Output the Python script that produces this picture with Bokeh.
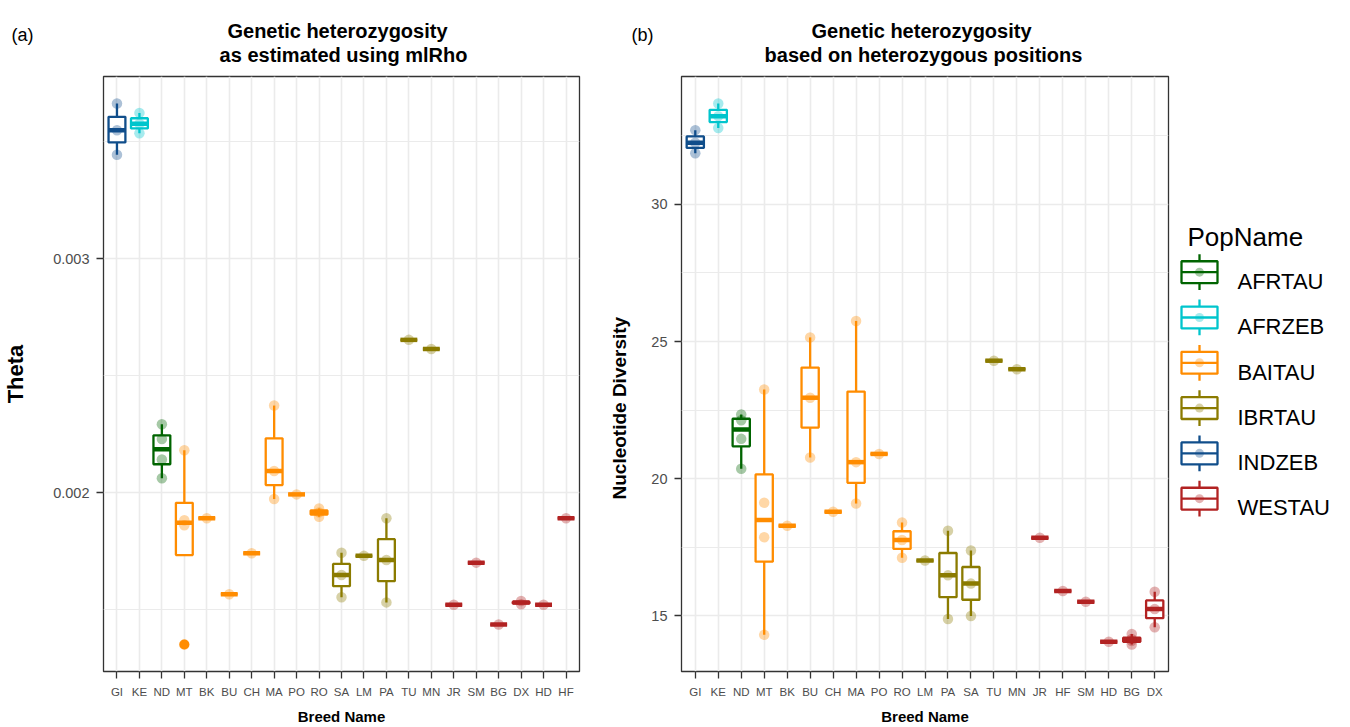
import numpy as np
from bokeh.plotting import figure
from bokeh.models import Range1d, FactorRange, FixedTicker, ColumnDataSource, PrintfTickFormatter, Title
from bokeh.layouts import row, column
from bokeh.embed import file_html
from bokeh.resources import INLINE
from bokeh.core.properties import value

# ---------------- data ----------------
pop_names = ["AFRTAU", "AFRZEB", "BAITAU", "IBRTAU", "INDZEB", "WESTAU"]
pop_colors = ["#006400", "#00C5CD", "#FF8C00", "#8B7B00", "#104E8B", "#B22222"]

breed_pop = {
    "GI": "INDZEB", "KE": "AFRZEB", "ND": "AFRTAU",
    "MT": "BAITAU", "BK": "BAITAU", "BU": "BAITAU", "CH": "BAITAU",
    "MA": "BAITAU", "PO": "BAITAU", "RO": "BAITAU",
    "SA": "IBRTAU", "LM": "IBRTAU", "PA": "IBRTAU", "TU": "IBRTAU", "MN": "IBRTAU",
    "JR": "WESTAU", "SM": "WESTAU", "BG": "WESTAU", "DX": "WESTAU", "HD": "WESTAU", "HF": "WESTAU",
}

theta_breeds = ["GI", "KE", "ND", "MT", "BK", "BU", "CH", "MA", "PO", "RO", "SA",
                "LM", "PA", "TU", "MN", "JR", "SM", "BG", "DX", "HD", "HF"]
theta_samples = [
    [0.003445, 0.003550, 0.003664],
    [0.003537, 0.003578, 0.003624],
    [0.002061, 0.002141, 0.002229, 0.002292],
    [0.001350, 0.001860, 0.001881, 0.002181],
    [0.001890],
    [0.001565],
    [0.001740],
    [0.001972, 0.002092, 0.002372],
    [0.001992],
    [0.001896, 0.001915, 0.001932],
    [0.001552, 0.001647, 0.001742],
    [0.001729],
    [0.001530, 0.001711, 0.001890],
    [0.002653],
    [0.002614],
    [0.001520],
    [0.001700],
    [0.001435],
    [0.001522, 0.001536],
    [0.001520],
    [0.001890],
]
theta_ticks = [0.002, 0.003]

nd_breeds = ["GI", "KE", "ND", "MT", "BK", "BU", "CH", "MA", "PO", "RO", "LM",
             "PA", "SA", "TU", "MN", "JR", "HF", "SM", "HD", "BG", "DX"]
nd_samples = [
    [31.87, 32.25, 32.71],
    [32.79, 33.22, 33.68],
    [20.36, 21.45, 22.13, 22.34],
    [14.30, 17.86, 19.12, 23.25],
    [18.28],
    [20.77, 22.95, 25.15],
    [18.79],
    [19.09, 20.60, 25.75],
    [20.90],
    [17.11, 17.76, 18.40],
    [17.01],
    [14.88, 16.47, 18.10],
    [14.99, 16.17, 17.38],
    [24.30],
    [23.99],
    [17.84],
    [15.90],
    [15.51],
    [14.05],
    [13.95, 14.08, 14.15, 14.33],
    [14.58, 15.24, 15.87],
]
nd_ticks = [15, 20, 25, 30]

panel_tags = ["(a)", "(b)"]
title_a = ["Genetic heterozygosity", "as estimated using mlRho"]
title_b = ["Genetic heterozygosity", "based on heterozygous positions"]

FONT = "Liberation Sans"
HEAD_H = 74
PANEL_H = 653
TOTAL_W = 1348
SPLIT = 587   # page x where the right panel's figure starts


def box_stats(vals):
    v = np.sort(np.asarray(vals, float))
    q1, med, q3 = np.percentile(v, [25, 50, 75])
    iqr = q3 - q1
    keep = (v >= q1 - 1.5 * iqr) & (v <= q3 + 1.5 * iqr)
    inside = v[keep]
    return q1, med, q3, inside.min(), inside.max(), v[~keep]


def make_panel(breeds, samples, ticks, fmt, width, bl, br):
    colors = [pop_colors[pop_names.index(breed_pop[b])] for b in breeds]
    stats = [box_stats(s) for s in samples]
    allv = np.concatenate([np.asarray(s, float) for s in samples])
    lo, hi = allv.min(), allv.max()
    pad = 0.05 * (hi - lo)
    step = ticks[1] - ticks[0]
    minor = [t - step / 2 for t in ticks] + [ticks[-1] + step / 2]

    p = figure(width=width, height=PANEL_H,
               x_range=FactorRange(factors=breeds, range_padding=0.1, range_padding_units="absolute"),
               y_range=Range1d(lo - pad, hi + pad),
               output_backend="svg", toolbar_location=None,
               min_border_left=bl, min_border_right=br, min_border_top=2, min_border_bottom=52)
    p.background_fill_color = "white"
    p.border_fill_color = "white"
    p.outline_line_color = "#333333"
    p.outline_line_width = 1.3

    box = ColumnDataSource(dict(
        breed=breeds, color=colors,
        q1=[s[0] for s in stats], med=[s[1] for s in stats], q3=[s[2] for s in stats],
        lo=[s[3] for s in stats], hi=[s[4] for s in stats]))
    p.segment(x0="breed", x1="breed", y0="q3", y1="hi", source=box, line_color="color", line_width=2.3)
    p.segment(x0="breed", x1="breed", y0="q1", y1="lo", source=box, line_color="color", line_width=2.3)
    p.vbar(x="breed", width=0.75, bottom="q1", top="q3", source=box,
           fill_color="white", line_color="color", line_width=2.3)
    p.rect(x="breed", y="med", width=0.75, height=4.5, height_units="screen", source=box,
           fill_color="color", line_color=None)

    ox, oy, oc = [], [], []
    px, py, pc = [], [], []
    for b, s, c, st in zip(breeds, samples, colors, stats):
        for v in st[5]:
            ox.append(b); oy.append(v); oc.append(c)
        for v in s:
            px.append(b); py.append(v); pc.append(c)
    p.scatter(x=ox, y=oy, color=oc, size=10, line_color=None)
    p.scatter(x=px, y=py, fill_color=pc, fill_alpha=0.35, line_color=None, size=10.5)

    p.xgrid.grid_line_color = "#EBEBEB"
    p.xgrid.grid_line_width = 1.6
    p.yaxis.ticker = FixedTicker(ticks=ticks, minor_ticks=minor)
    p.yaxis.formatter = PrintfTickFormatter(format=fmt)
    p.ygrid.grid_line_color = "#EBEBEB"
    p.ygrid.grid_line_width = 1.6
    p.ygrid.minor_grid_line_color = "#EBEBEB"
    p.ygrid.minor_grid_line_width = 1.0

    for ax in (p.xaxis[0], p.yaxis[0]):
        ax.axis_line_color = None
        ax.major_tick_line_color = "#333333"
        ax.major_tick_line_width = 1.3
        ax.major_tick_in = 0
        ax.major_tick_out = 7
        ax.minor_tick_line_color = None
        ax.major_label_text_color = "#4D4D4D"
        ax.major_label_text_font = FONT
        ax.major_label_standoff = 7
        ax.axis_label_text_font = FONT
        ax.axis_label_text_font_style = "bold"
        ax.axis_label_text_color = "black"
    p.xaxis.major_label_text_font_size = "11.5px"
    p.yaxis.major_label_text_font_size = "14.5px"
    p.xaxis.axis_label = "Breed Name"
    p.xaxis.axis_label_text_font_size = "15px"
    p.xaxis.axis_label_standoff = 7
    return p


# ---- panels: left frame page x 103..579, right frame 681..1168, y 76..675
p1 = make_panel(theta_breeds, theta_samples, theta_ticks, "%.3f", SPLIT, 103, SPLIT - 103 - 476)
p1.yaxis.axis_label = "Theta"
p1.yaxis.axis_label_text_font_size = "22px"
p1.yaxis.axis_label_standoff = 22

p2 = make_panel(nd_breeds, nd_samples, nd_ticks, "%d", 1170 - SPLIT, 681 - SPLIT, 2)
p2.add_layout(Title(text="Nucleotide Diversity", align="left", offset=172, standoff=38,
                    text_font=FONT, text_font_size="19px", text_font_style="bold",
                    text_color="black"), "left")

# ---- header strip (titles and panel tags); data coords = page pixels
head = figure(width=TOTAL_W, height=HEAD_H, x_range=Range1d(0, TOTAL_W), y_range=Range1d(HEAD_H, 0),
              output_backend="svg", toolbar_location=None, x_axis_location=None, y_axis_location=None,
              min_border_left=0, min_border_right=0, min_border_top=0, min_border_bottom=0)
head.grid.visible = False
head.outline_line_color = None
head.background_fill_color = "white"
head.border_fill_color = "white"
head.text(x=[22, 642], y=[34, 34], text=panel_tags, text_font=value(FONT), text_font_size="18px",
          text_align="center", text_baseline="middle", text_color="black")
head.text(x=[337, 343], y=[30, 54], text=title_a, text_font=value(FONT), text_font_size="20px",
          text_font_style="bold", text_align="center", text_baseline="alphabetic", text_color="black")
head.text(x=[921, 923], y=[30, 54], text=title_b, text_font=value(FONT), text_font_size="20px",
          text_font_style="bold", text_align="center", text_baseline="alphabetic", text_color="black")

# ---- legend panel (page x 1170..1348); data coords = page pixels
p3 = figure(width=TOTAL_W - 1170, height=PANEL_H, x_range=Range1d(1170, TOTAL_W), y_range=Range1d(675, 76),
            output_backend="svg", toolbar_location=None, x_axis_location=None, y_axis_location=None,
            min_border_left=0, min_border_right=0, min_border_top=2, min_border_bottom=52)
p3.grid.visible = False
p3.outline_line_color = None
p3.background_fill_color = "white"
p3.border_fill_color = "white"

n = len(pop_names)
ys = np.array([273 + 45.6 * i for i in range(n)])
cx = 1199
p3.segment(x0=[cx] * n, x1=[cx] * n, y0=ys - 18, y1=ys + 18, line_color=pop_colors, line_width=2.3)
p3.quad(left=cx - 18, right=cx + 18, top=ys - 11, bottom=ys + 11,
        fill_color="white", line_color=pop_colors, line_width=2.3)
p3.segment(x0=[cx - 18] * n, x1=[cx + 18] * n, y0=ys, y1=ys, line_color=pop_colors, line_width=2.3)
p3.scatter(x=[cx] * n, y=ys, fill_color=pop_colors, fill_alpha=0.35, line_color=None, size=9)
p3.text(x=[1237] * n, y=ys + 9.3, text=pop_names, text_font=value(FONT),
        text_font_size="22px", text_baseline="alphabetic", text_color="black")
p3.text(x=[1187], y=[238], text=["PopName"], text_font=value(FONT),
        text_font_size="26px", text_baseline="alphabetic", text_color="black")

layout = column(head, row(p1, p2, p3))
open("out.html", "w").write(file_html(layout, INLINE))
